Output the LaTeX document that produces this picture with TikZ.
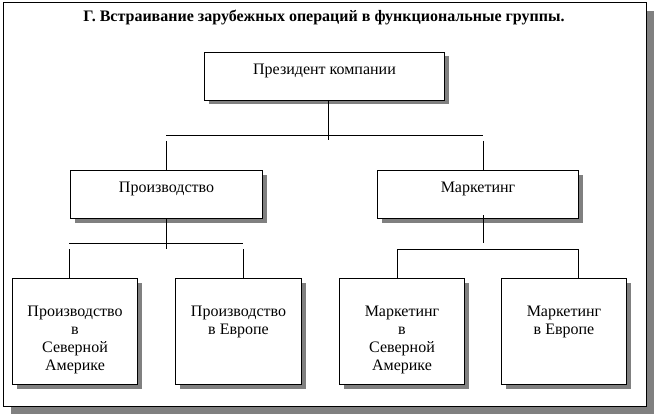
\documentclass[tikz,border=0pt]{standalone}
\usepackage{fontspec}
\setmainfont{Liberation Serif}
\usetikzlibrary{calc,positioning,shadows}
\definecolor{shadegray}{RGB}{128,128,128}

\begin{document}
\begin{tikzpicture}[x=1pt, y=-1pt, line width=1pt, font=\fontsize{16}{18}\selectfont,
  unit/.style={draw, fill=white, anchor=north west, inner sep=0pt,
    drop shadow={shadow xshift=4pt, shadow yshift=-4pt, fill=shadegray, opacity=1}},
  topbox/.style={unit, minimum width=240, minimum height=48},
  midbox/.style={unit, minimum width=192, minimum height=48},
  lowbox/.style={unit, minimum width=125, minimum height=106},
  lbl/.style={anchor=north, inner sep=0pt, align=center},
  toplbl/.style={lbl, text height=11pt, text depth=3pt, yshift=-10.7pt},
  lowlbl/.style={lbl, yshift=-28pt}]
\useasboundingbox (0,0) rectangle (656,417);
% frame with its shadow
\fill[shadegray] (11,11) rectangle (654,414);
\draw[fill=white] (3,3) rectangle (646,406);
\path (324,18) node[font=\fontsize{16}{18}\selectfont\bfseries] (title) {Г. Встраивание зарубежных операций в функциональные группы.};

\node[topbox, label={[toplbl]north:Президент компании}] (pres) at (204,52) {};
\node[midbox, label={[toplbl]north:Производство}] (prod) at (70,170) {};
\node[midbox, minimum width=201, label={[toplbl]north:Маркетинг}] (mkt) at (377,170) {};
\node[lowbox, label={[lowlbl]north:Производство\\в\\Северной\\Америке}] (psa) at (12,278) {};
\node[lowbox, minimum width=126, label={[lowlbl]north:Производство\\в Европе}] (pe) at (175,278) {};
\node[lowbox, label={[lowlbl]north:Маркетинг\\в\\Северной\\Америке}] (msa) at (339,278) {};
\node[lowbox, label={[lowlbl]north:Маркетинг\\в Европе}] (me) at (501,278) {};

% first level
\coordinate (b1l) at (166,136);
\coordinate (b1r) at (483,136);
\coordinate (b1m) at (328,140);
\draw (b1l) -- (b1r);
\draw (pres.south -| b1m) -- (b1m);
\draw ($(b1l)+(0,5)$) -- (b1l |- prod.north);
\draw ($(b1r)+(0,5)$) -- (b1r |- mkt.north);
% production
\coordinate (b2l) at (69,243);
\coordinate (b2r) at (243,243);
\draw (b2l) -- (b2r);
\draw (prod.south) -- ++(0,30);
\draw ($(b2l)+(0,6)$) -- (b2l |- psa.north);
\draw ($(b2r)+(0,6)$) -- (b2r |- pe.north);
% marketing
\coordinate (b3l) at (397,249);
\coordinate (b3r) at (578,249);
\draw ($(b1r |- mkt.south)+(0,-4)$) -- (b1r |- b2l);
\draw (b3l |- msa.north) -- (b3l) -- (b3r) -- (b3r |- me.north);
\end{tikzpicture}
\end{document}
